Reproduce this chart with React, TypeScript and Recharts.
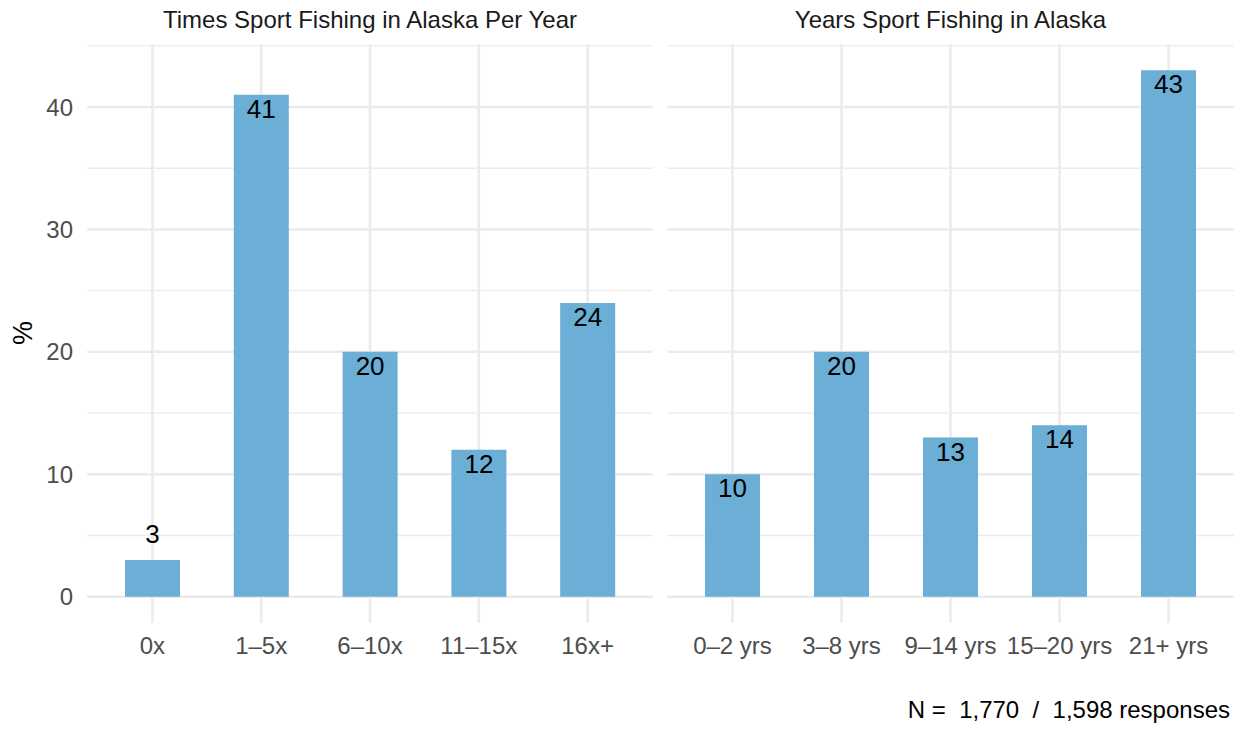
import React from 'react';
import {
  BarChart,
  Bar,
  XAxis,
  YAxis,
  CartesianGrid,
  LabelList,
} from 'recharts';

const timesCategories = ['0x', '1–5x', '6–10x', '11–15x', '16x+'];
const timesValues = [3, 41, 20, 12, 24];

const yearsCategories = ['0–2 yrs', '3–8 yrs', '9–14 yrs', '15–20 yrs', '21+ yrs'];
const yearsValues = [10, 20, 13, 14, 43];

const majorTicks = [0, 10, 20, 30, 40];
const minorTicks = [5, 15, 25, 35, 45];
const yDomain = [-2.15, 45.15];

const FONT = '"Liberation Sans", Arial, Helvetica, sans-serif';
const BAR = '#6BAED6';
const GRID = '#EBEBEB';

const ValueLabel = (props: any) => {
  const { x, y, width, value } = props;
  const inside = value >= 5;
  const cy = inside ? y + 14 : y - 26;
  return (
    <text
      x={x + width / 2}
      y={cy}
      textAnchor="middle"
      dominantBaseline="central"
      fontSize={26}
      fontFamily={FONT}
      fill="#000"
    >
      {value}
    </text>
  );
};

const Panel = ({
  categories,
  values,
  showY,
  width,
}: {
  categories: string[];
  values: number[];
  showY: boolean;
  width: number;
}) => {
  const data = categories.map((c, i) => ({ cat: c, pct: values[i] }));
  return (
    <BarChart
      width={width}
      height={734}
      data={data}
      margin={{ top: 44, right: showY ? 0 : 1, bottom: 71, left: 0 }}
    >
      <CartesianGrid
        stroke={GRID}
        strokeWidth={1.3}
        vertical={false}
        horizontalValues={minorTicks}
      />
      <CartesianGrid
        stroke={GRID}
        strokeWidth={2.5}
        horizontalValues={majorTicks}
        verticalValues={categories}
      />
      <XAxis
        dataKey="cat"
        type="category"
        padding={{ left: 11, right: 11 }}
        height={40}
        axisLine={false}
        tickLine={false}
        tickSize={0}
        tickMargin={14}
        interval={0}
        tick={{ fontSize: 24, fill: '#4D4D4D', fontFamily: FONT }}
      />
      <YAxis
        type="number"
        domain={yDomain}
        ticks={majorTicks}
        allowDataOverflow
        hide={!showY}
        width={showY ? 87 : 0}
        axisLine={false}
        tickLine={false}
        tickSize={0}
        tickMargin={14}
        tick={{ fontSize: 24, fill: '#4D4D4D', fontFamily: FONT }}
      />
      <Bar dataKey="pct" fill={BAR} barSize={55} isAnimationActive={false}>
        <LabelList dataKey="pct" content={<ValueLabel />} />
      </Bar>
    </BarChart>
  );
};

export default function App() {
  return (
    <div
      style={{
        position: 'absolute',
        left: 0,
        top: 0,
        width: 1235,
        height: 734,
        background: '#fff',
        fontFamily: FONT,
      }}
    >
      <div style={{ position: 'absolute', left: 0, top: 0 }}>
        <Panel categories={timesCategories} values={timesValues} showY width={653} />
      </div>
      <div style={{ position: 'absolute', left: 667, top: 0 }}>
        <Panel categories={yearsCategories} values={yearsValues} showY={false} width={568} />
      </div>
      <svg
        width={1235}
        height={734}
        style={{ position: 'absolute', left: 0, top: 0, pointerEvents: 'none' }}
      >
        <text x={370} y={28} textAnchor="middle" fontSize={24} fill="#1A1A1A" fontFamily={FONT}>
          Times Sport Fishing in Alaska Per Year
        </text>
        <text x={950.5} y={28} textAnchor="middle" fontSize={24} fill="#1A1A1A" fontFamily={FONT}>
          Years Sport Fishing in Alaska
        </text>
        <text
          x={23}
          y={333}
          textAnchor="middle"
          dominantBaseline="central"
          fontSize={27}
          fill="#000"
          fontFamily={FONT}
          transform="rotate(-90 23 333)"
        >
          %
        </text>
        <text x={1230} y={718} textAnchor="end" fontSize={24} fill="#000" fontFamily={FONT} style={{ whiteSpace: 'pre' }}>
          {'N =  1,770  /  1,598 responses'}
        </text>
      </svg>
    </div>
  );
}
